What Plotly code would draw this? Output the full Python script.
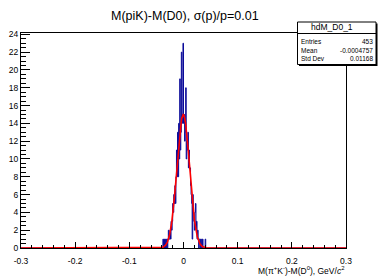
import numpy as np
import plotly.graph_objects as go

# ---------------- data ----------------
hist_name = "hdM_D0_1"
plot_title = "M(piK)-M(D0), σ(p)/p=0.01"
x_title = "M(π<sup>+</sup>K<sup>-</sup>)-M(D<sup>0</sup>), GeV/<i>c</i><sup>2</sup>"

x_min, x_max = -0.3, 0.3
y_max = 24.15
bin_width = 0.001
first_bin_low = -0.045
# counts of the 0.001-wide bins from -0.045 to +0.045 (all other bins empty)
counts = [
    0, 0, 0, 0, 0, 0, 0, 1, 0, 0,
    1, 0, 1, 0, 1, 0, 1, 2, 1, 1,
    2, 1, 3, 2, 3, 5, 4, 6, 5, 7,
    5, 8, 11, 8, 13, 8, 14, 10, 19, 11,
    13, 22, 14, 15, 23,
    14, 15, 12, 13, 18, 10, 12, 11, 13, 9,
    11, 9, 9, 7, 6, 5, 1, 6, 4, 3,
    2, 4, 5, 2, 3, 1, 2, 1, 0, 1,
    1, 0, 1, 0, 0, 1, 0, 0, 0, 0,
    1, 0, 0, 0, 0,
]

# gaussian fit parameters
fit_amp = 15.0
fit_mean = -0.0005
fit_sigma = 0.0117

stats_labels = ["Entries", "Mean", "Std Dev"]
stats_values = ["453", "-0.0004757", "0.01168"]

x_tickvals = [-0.3, -0.2, -0.1, 0.0, 0.1, 0.2, 0.3]
x_ticktext = ["-0.3", "-0.2", "-0.1", "0", "0.1", "0.2", "0.3"]
y_tickvals = [0, 2, 4, 6, 8, 10, 12, 14, 16, 18, 20, 22, 24]
y_ticktext = ["0", "2", "4", "6", "8", "10", "12", "14", "16", "18", "20", "22", "24"]

# ---------------- figure ----------------
W, H = 378, 276
ML, MR, MT, MB = 21, 32, 33, 28
PW, PH = W - ML - MR, H - MT - MB
FONT = "Liberation Sans, Arial, Helvetica, sans-serif"
HIST_COLOR = "#0a0a99"


def px2x(px):
    return (px - ML) / PW


def px2y(py):
    return (H - MB - py) / PH


edges = first_bin_low + bin_width * np.arange(len(counts) + 1)
hx = np.concatenate([[x_min], edges, [x_max]])
hy = np.concatenate([[0], np.array(counts, dtype=float), [0, 0]])

fx = np.linspace(x_min, x_max, 2401)
fy = fit_amp * np.exp(-0.5 * ((fx - fit_mean) / fit_sigma) ** 2)

fig = go.Figure()
fig.add_trace(go.Scatter(x=hx, y=hy, mode="lines", line=dict(color=HIST_COLOR, width=1, shape="hv"),
                         hoverinfo="skip", showlegend=False))
fig.add_trace(go.Scatter(x=fx, y=fy, mode="lines", line=dict(color="#ff0000", width=1.6),
                         hoverinfo="skip", showlegend=False))

axis_common = dict(showline=True, linecolor="black", linewidth=1, mirror=True, showgrid=False,
                   zeroline=False, ticks="inside", tickcolor="black", tickwidth=1,
                   tickfont=dict(family=FONT, size=8.5, color="black"), tickmode="array",
                   automargin=False)

fig.update_xaxes(range=[x_min, x_max], tickvals=x_tickvals, ticktext=x_ticktext, ticklen=6,
                 ticklabelstandoff=5,
                 minor=dict(dtick=0.02, tick0=-0.3, ticks="inside", ticklen=3, tickcolor="black"),
                 **axis_common)
fig.update_yaxes(range=[0, y_max], tickvals=y_tickvals, ticktext=y_ticktext, ticklen=9,
                 minor=dict(dtick=0.5, tick0=0, ticks="inside", ticklen=5, tickcolor="black"),
                 **axis_common)

shapes = []
# stats box shadow and box
bx0, bx1, by0, by1 = 297.5, 376, 22, 64.5
shapes.append(dict(type="rect", xref="paper", yref="paper", x0=px2x(bx0 + 1.5), x1=px2x(bx1 + 1.5),
                   y0=px2y(by1 + 1.5), y1=px2y(by0 + 1.5), fillcolor="black", line=dict(width=0), layer="above"))
shapes.append(dict(type="rect", xref="paper", yref="paper", x0=px2x(bx0), x1=px2x(bx1),
                   y0=px2y(by1), y1=px2y(by0), fillcolor="white", line=dict(color="black", width=1),
                   layer="above"))
shapes.append(dict(type="line", xref="paper", yref="paper", x0=px2x(bx0), x1=px2x(bx1),
                   y0=px2y(33.5), y1=px2y(33.5), line=dict(color="black", width=1), layer="above"))
fig.update_layout(shapes=shapes)

ann = []
ann.append(dict(text=plot_title, x=px2x(185), y=px2y(16), xref="paper", yref="paper",
                showarrow=False, xanchor="center", yanchor="middle",
                font=dict(family=FONT, size=12.5, color="black")))
ann.append(dict(text=hist_name, x=px2x(332), y=px2y(27.5), xref="paper", yref="paper",
                showarrow=False, xanchor="center", yanchor="middle",
                font=dict(family=FONT, size=8.5, color="black")))
row_y = [41, 50, 59]
for lab, val, ry in zip(stats_labels, stats_values, row_y):
    ann.append(dict(text=lab, x=px2x(299), y=px2y(ry), xref="paper", yref="paper",
                    showarrow=False, xanchor="left", yanchor="middle",
                    font=dict(family=FONT, size=6.5, color="black")))
    ann.append(dict(text=val, x=px2x(375), y=px2y(ry), xref="paper", yref="paper",
                    showarrow=False, xanchor="right", yanchor="middle",
                    font=dict(family=FONT, size=6.5, color="black")))
ann.append(dict(text=x_title, x=px2x(346), y=px2y(270.5), xref="paper", yref="paper",
                showarrow=False, xanchor="right", yanchor="middle",
                font=dict(family=FONT, size=8.5, color="black")))

fig.update_layout(width=W, height=H, margin=dict(l=ML, r=MR, t=MT, b=MB, pad=0, autoexpand=False),
                  paper_bgcolor="white", plot_bgcolor="white", annotations=ann,
                  showlegend=False)

fig.write_html("out.html", config={"responsive": False, "displayModeBar": False},
               post_script="document.body.style.margin='0px';document.body.style.padding='0px';")
